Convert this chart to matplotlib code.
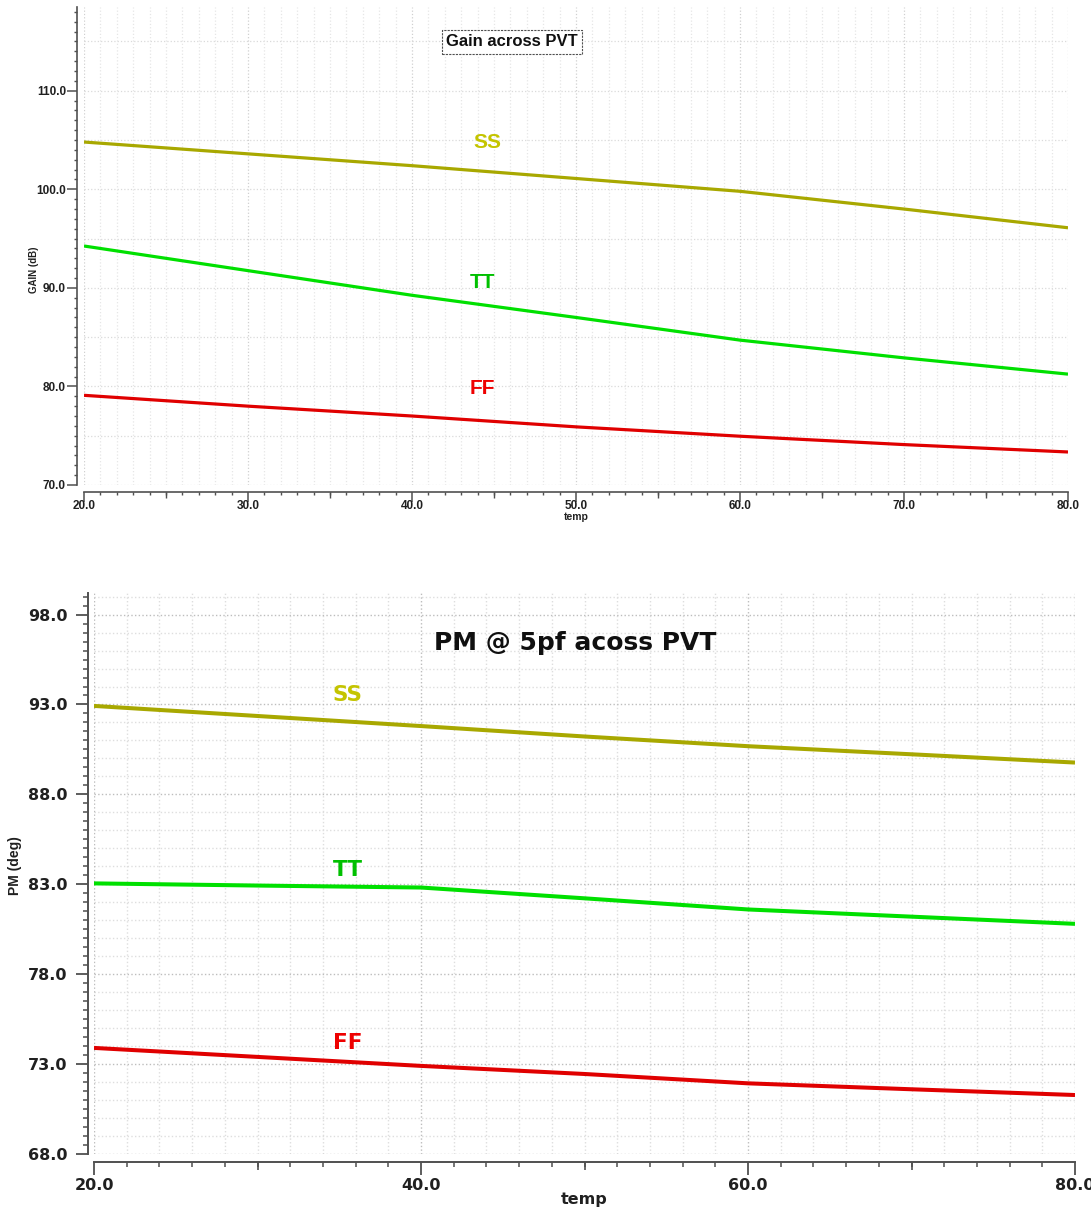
import matplotlib
matplotlib.use('Agg')
import matplotlib.pyplot as plt
from matplotlib.ticker import MultipleLocator, FormatStrFormatter

# temperature sweep points
temp = [20, 30, 40, 50, 60, 70, 80]

# Gain (dB) across corners
gain_ss = [104.8, 103.6, 102.4, 101.1, 99.8, 98.0, 96.1]
gain_tt = [94.25, 91.75, 89.25, 87.0, 84.7, 82.9, 81.25]
gain_ff = [79.1, 78.0, 77.0, 75.9, 74.95, 74.1, 73.35]

# Phase margin (deg) @ 5pF across corners
pm_ss = [92.92, 92.36, 91.8, 91.22, 90.68, 90.23, 89.77]
pm_tt = [83.05, 82.93, 82.82, 82.22, 81.6, 81.2, 80.8]
pm_ff = [73.9, 73.4, 72.9, 72.45, 71.93, 71.6, 71.28]

corners = ['SS', 'TT', 'FF']
line_colors = {'SS': '#a8a800', 'TT': '#00e000', 'FF': '#e00000'}
label_colors = {'SS': '#c4c400', 'TT': '#00c000', 'FF': '#ee0000'}

NARROW = ['Liberation Sans', 'DejaVu Sans']
WIDE = ['DejaVu Sans']

fig = plt.figure(figsize=(10.91, 12.11), dpi=100)

# ---------------- Top: gain ----------------
ax1 = fig.add_axes([84 / 1091, 1 - 485 / 1211, 984 / 1091, 478 / 1211])
ax1.set_xlim(20, 80)
ax1.set_ylim(70, 118.5)
for s in ['top', 'right']:
    ax1.spines[s].set_visible(False)
ax1.spines['left'].set_position(('outward', 5))
ax1.spines['bottom'].set_position(('outward', 5))
for s in ['left', 'bottom']:
    ax1.spines[s].set_color('#505050')
    ax1.spines[s].set_linewidth(1.2)
ax1.xaxis.set_major_locator(MultipleLocator(10))
ax1.xaxis.set_minor_locator(MultipleLocator(1))
ax1.yaxis.set_major_locator(MultipleLocator(10))
ax1.yaxis.set_minor_locator(MultipleLocator(1))
ax1.xaxis.set_major_formatter(FormatStrFormatter('%.1f'))
ax1.yaxis.set_major_formatter(FormatStrFormatter('%.1f'))
ax1.tick_params(which='major', length=7, width=1.1, color='#505050', labelsize=8.5)
ax1.tick_params(axis='x', which='major', pad=-1)
ax1.tick_params(axis='y', which='major', pad=1)
ax1.tick_params(which='minor', length=2.5, width=1.0, color='#505050')
for lab in ax1.get_xticklabels() + ax1.get_yticklabels():
    lab.set_family(NARROW)
    lab.set_fontweight('bold')
    lab.set_color('#202020')
ax1.grid(which='major', axis='x', color='#d0d0d0', linestyle=':', linewidth=0.9)
ax1.grid(which='minor', axis='x', color='#e6e6e6', linestyle=':', linewidth=0.9)
for v in range(70, 120, 5):
    ax1.axhline(v, color='#dadada', linestyle=':', linewidth=0.9, zorder=0)
ax1.set_axisbelow(True)

# medium ticks at the 5s
ax1m = ax1.twiny()
ax1m.set_xlim(20, 80)
ax1m.xaxis.set_ticks_position('bottom')
ax1m.spines['bottom'].set_position(('outward', 5))
for s in ax1m.spines.values():
    s.set_visible(False)
ax1m.set_xticks([25, 35, 45, 55, 65, 75])
ax1m.tick_params(axis='x', length=4.5, width=1.0, color='#505050',
                 labelbottom=False, labeltop=False)
ax1m.patch.set_visible(False)

for name, vals in zip(corners, [gain_ss, gain_tt, gain_ff]):
    ax1.plot(temp, vals, color=line_colors[name], linewidth=2.3, solid_capstyle='butt')

gain_lbl = {'SS': (44.6, 104.8), 'TT': (44.3, 90.5), 'FF': (44.3, 79.8)}
for name in corners:
    x, y = gain_lbl[name]
    ax1.text(x, y, name, color=label_colors[name], fontsize=15, fontweight='bold',
             family=NARROW, ha='center', va='center')

ax1.text(0.435, 0.927, 'Gain across PVT', transform=ax1.transAxes,
         ha='center', va='center', fontsize=12, fontweight='bold', family=NARROW,
         color='#101010',
         bbox=dict(boxstyle='square,pad=0.25', facecolor='white',
                   edgecolor='#505050', linestyle=(0, (2, 1)), linewidth=0.8))
ax1.set_ylabel('GAIN (dB)', fontsize=7, fontweight='bold', family=NARROW,
               color='#202020')
ax1.yaxis.set_label_coords(-0.046, 0.45)
ax1.set_xlabel('temp', fontsize=7.5, fontweight='bold', family=NARROW, color='#202020')
ax1.xaxis.set_label_coords(0.5, -0.056)

# ---------------- Bottom: phase margin ----------------
ax2 = fig.add_axes([94 / 1091, 1 - 1154 / 1211, 981 / 1091, 561 / 1211])
ax2.set_xlim(20, 80)
ax2.set_ylim(68, 99.2)
for s in ['top', 'right']:
    ax2.spines[s].set_visible(False)
ax2.spines['left'].set_position(('outward', 4))
ax2.spines['bottom'].set_position(('outward', 6))
for s in ['left', 'bottom']:
    ax2.spines[s].set_color('#505050')
    ax2.spines[s].set_linewidth(1.4)
ax2.xaxis.set_major_locator(MultipleLocator(20))
ax2.xaxis.set_minor_locator(MultipleLocator(2))
ax2.set_yticks([68, 73, 78, 83, 88, 93, 98])
ax2.yaxis.set_minor_locator(MultipleLocator(0.5))
ax2.xaxis.set_major_formatter(FormatStrFormatter('%.1f'))
ax2.yaxis.set_major_formatter(FormatStrFormatter('%.1f'))
ax2.tick_params(which='major', length=9, width=1.3, color='#505050', labelsize=11.5)
ax2.tick_params(axis='x', which='major', pad=2)
ax2.tick_params(axis='y', which='major', pad=6)
ax2.tick_params(which='minor', length=3.5, width=1.1, color='#505050')
for lab in ax2.get_xticklabels() + ax2.get_yticklabels():
    lab.set_family(WIDE)
    lab.set_fontweight('bold')
    lab.set_color('#202020')
ax2.grid(which='major', color='#bdbdbd', linestyle=':', linewidth=1.0)
ax2.grid(which='minor', axis='x', color='#dedede', linestyle=':', linewidth=1.0)
for v in range(69, 100):
    if (v - 68) % 5:
        ax2.axhline(v, color='#dedede', linestyle=':', linewidth=1.0, zorder=0)
ax2.set_axisbelow(True)

ax2m = ax2.twiny()
ax2m.set_xlim(20, 80)
ax2m.xaxis.set_ticks_position('bottom')
ax2m.spines['bottom'].set_position(('outward', 6))
for s in ax2m.spines.values():
    s.set_visible(False)
ax2m.set_xticks([30, 50, 70])
ax2m.tick_params(axis='x', length=6, width=1.2, color='#505050',
                 labelbottom=False, labeltop=False)
ax2m.patch.set_visible(False)

for name, vals in zip(corners, [pm_ss, pm_tt, pm_ff]):
    ax2.plot(temp, vals, color=line_colors[name], linewidth=2.9, solid_capstyle='butt')

pm_lbl = {'SS': (35.5, 93.55), 'TT': (35.5, 83.8), 'FF': (35.5, 74.17)}
for name in corners:
    x, y = pm_lbl[name]
    ax2.text(x, y, name, color=label_colors[name], fontsize=15.5, fontweight='bold',
             family=WIDE, ha='center', va='center')

ax2.text(0.491, 0.911, 'PM @ 5pf acoss PVT', transform=ax2.transAxes,
         ha='center', va='center', fontsize=18, fontweight='bold', family=WIDE,
         color='#101010')
ax2.set_ylabel('PM (deg)', fontsize=10, fontweight='bold', family=NARROW,
               color='#202020')
ax2.yaxis.set_label_coords(-0.073, 0.515)
ax2.set_xlabel('temp', fontsize=11.5, fontweight='bold', family=WIDE, color='#202020')
ax2.xaxis.set_label_coords(0.4995, -0.068)

fig.savefig('out.png', dpi=100)
